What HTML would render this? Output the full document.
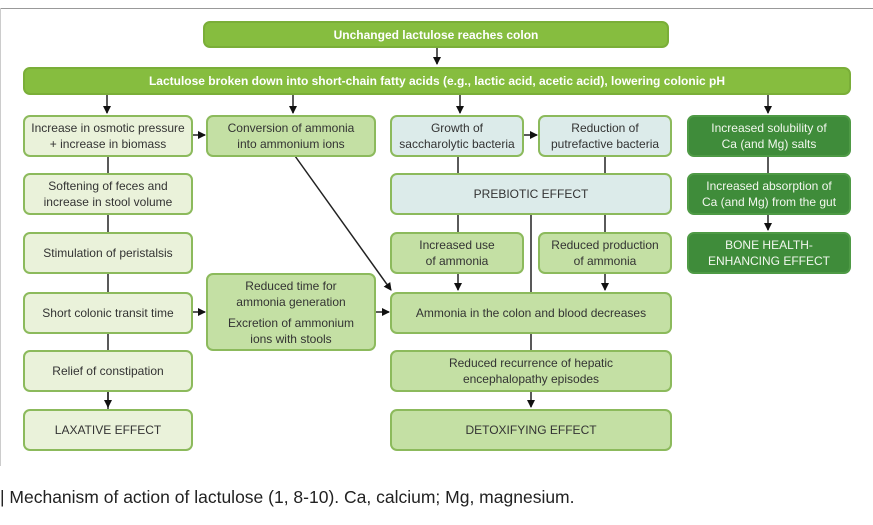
<!DOCTYPE html>
<html><head><meta charset="utf-8"><style>
body{margin:0;width:873px;height:525px;background:#fff;position:relative;overflow:hidden;font-family:"Liberation Sans",Arial,sans-serif}
.b{position:absolute;box-sizing:border-box;border:2px solid #8cba5c;border-radius:7px;display:flex;align-items:center;justify-content:center;text-align:center;font-size:12px;line-height:16px;color:#333}
.l{background:#eaf2da}.m{background:#c4e0a4}.bl{background:#dcebea}.d{background:#3f8c3a;border-color:#4e9a45;color:#f2f7ee}
.g{background:#86bd3f;border-color:#7aae38;color:#fff;font-weight:bold;font-size:12px}
svg{position:absolute;left:0;top:0}
</style></head><body>
<div style="position:absolute;left:0;top:8px;width:873px;height:1px;background:#999"></div>
<div style="position:absolute;left:0;top:8px;width:1px;height:458px;background:#ccc"></div>
<svg width="873" height="525">
<defs><marker id="a" markerWidth="8" markerHeight="8" refX="7" refY="4" orient="auto" markerUnits="userSpaceOnUse"><path d="M0,0L8,4L0,8z" fill="#111"/></marker></defs>
<g stroke="#222" stroke-width="1.5" fill="none">
<line x1="437" y1="47" x2="437" y2="64" marker-end="url(#a)"/>
<line x1="107" y1="94" x2="107" y2="113" marker-end="url(#a)"/>
<line x1="293" y1="94" x2="293" y2="113" marker-end="url(#a)"/>
<line x1="460" y1="94" x2="460" y2="113" marker-end="url(#a)"/>
<line x1="768" y1="94" x2="768" y2="113" marker-end="url(#a)"/>
<line x1="108" y1="156" x2="108" y2="409"/>
<line x1="108" y1="391" x2="108" y2="407" marker-end="url(#a)"/>
<line x1="192" y1="135" x2="205" y2="135" marker-end="url(#a)"/>
<line x1="523" y1="135" x2="537" y2="135" marker-end="url(#a)"/>
<line x1="458" y1="156" x2="458" y2="232"/>
<line x1="605" y1="156" x2="605" y2="232"/>
<line x1="531" y1="214" x2="531" y2="350"/>
<line x1="458" y1="273" x2="458" y2="290" marker-end="url(#a)"/>
<line x1="605" y1="273" x2="605" y2="290" marker-end="url(#a)"/>
<line x1="295" y1="156" x2="391" y2="290" marker-end="url(#a)"/>
<line x1="192" y1="312" x2="205" y2="312" marker-end="url(#a)"/>
<line x1="375" y1="312" x2="389" y2="312" marker-end="url(#a)"/>
<line x1="531" y1="391" x2="531" y2="407" marker-end="url(#a)"/>
<line x1="768" y1="156" x2="768" y2="173"/>
<line x1="768" y1="214" x2="768" y2="230" marker-end="url(#a)"/>
</g></svg>
<div class="b g" style="left:203px;top:21px;width:466px;height:27px">Unchanged lactulose reaches colon</div>
<div class="b g" style="left:23px;top:67px;width:828px;height:28px">Lactulose broken down into short-chain fatty acids (e.g., lactic acid, acetic acid), lowering colonic pH</div>
<div class="b l" style="left:23px;top:115px;width:170px;height:42px">Increase in osmotic pressure<br>+ increase in biomass</div>
<div class="b m" style="left:206px;top:115px;width:170px;height:42px">Conversion of ammonia<br>into ammonium ions</div>
<div class="b bl" style="left:390px;top:115px;width:134px;height:42px">Growth of<br>saccharolytic bacteria</div>
<div class="b bl" style="left:538px;top:115px;width:134px;height:42px">Reduction of<br>putrefactive bacteria</div>
<div class="b d" style="left:687px;top:115px;width:164px;height:42px">Increased solubility of<br>Ca (and Mg) salts</div>
<div class="b l" style="left:23px;top:173px;width:170px;height:42px">Softening of feces and<br>increase in stool volume</div>
<div class="b bl" style="left:390px;top:173px;width:282px;height:42px">PREBIOTIC EFFECT</div>
<div class="b d" style="left:687px;top:173px;width:164px;height:42px">Increased absorption of<br>Ca (and Mg) from the gut</div>
<div class="b l" style="left:23px;top:232px;width:170px;height:42px">Stimulation of peristalsis</div>
<div class="b m" style="left:390px;top:232px;width:134px;height:42px">Increased use<br>of ammonia</div>
<div class="b m" style="left:538px;top:232px;width:134px;height:42px">Reduced production<br>of ammonia</div>
<div class="b d" style="left:687px;top:232px;width:164px;height:42px">BONE HEALTH-<br>ENHANCING EFFECT</div>
<div class="b l" style="left:23px;top:292px;width:170px;height:42px">Short colonic transit time</div>
<div class="b m" style="left:206px;top:273px;width:170px;height:78px;flex-direction:column">Reduced time for<br>ammonia generation<div style="height:5px"></div>Excretion of ammonium<br>ions with stools</div>
<div class="b m" style="left:390px;top:292px;width:282px;height:42px">Ammonia in the colon and blood decreases</div>
<div class="b l" style="left:23px;top:350px;width:170px;height:42px">Relief of constipation</div>
<div class="b m" style="left:390px;top:350px;width:282px;height:42px">Reduced recurrence of hepatic<br>encephalopathy episodes</div>
<div class="b l" style="left:23px;top:409px;width:170px;height:42px">LAXATIVE EFFECT</div>
<div class="b m" style="left:390px;top:409px;width:282px;height:42px">DETOXIFYING EFFECT</div>
<div style="position:absolute;left:0;top:487px;font-size:17.5px;color:#222;white-space:nowrap">| Mechanism of action of lactulose (1, 8-10). Ca, calcium; Mg, magnesium.</div>
</body></html>
